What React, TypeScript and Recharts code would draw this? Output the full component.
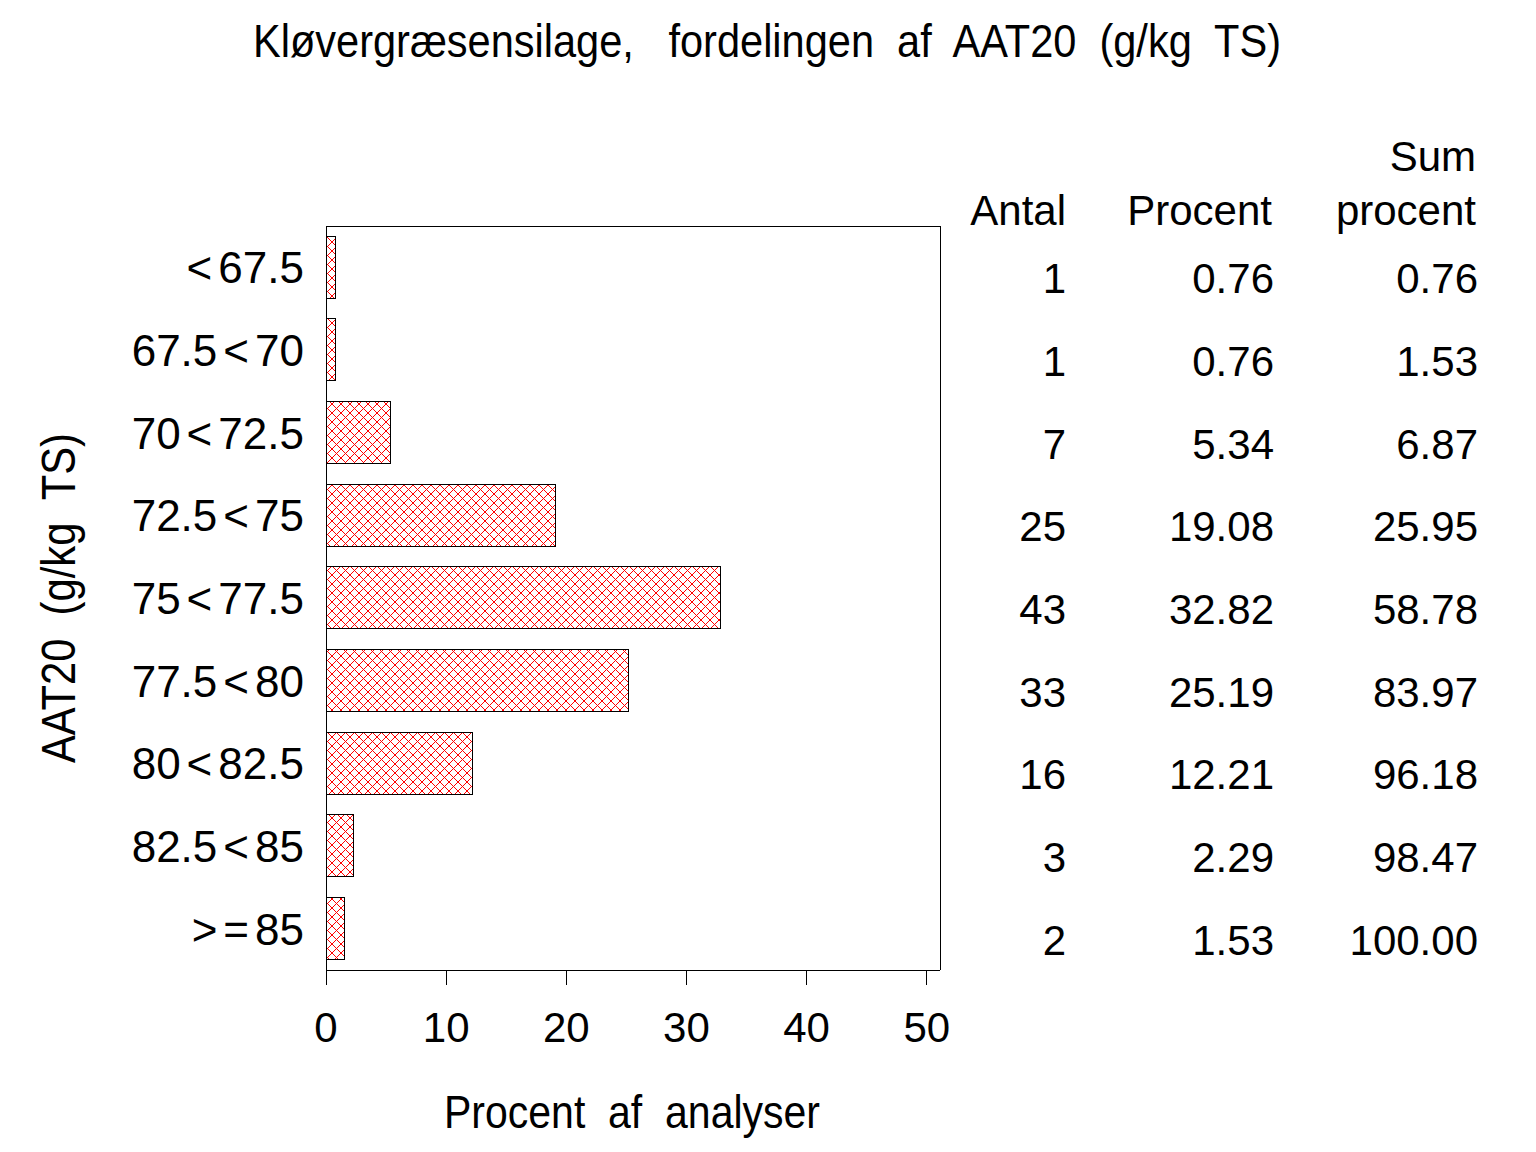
import { Bar, BarChart, Customized, XAxis, YAxis } from "recharts";

const categories = ["<67.5", "67.5<70", "70<72.5", "72.5<75", "75<77.5", "77.5<80", "80<82.5", "82.5<85", ">=85"];
const counts = [1, 1, 7, 25, 43, 33, 16, 3, 2];
const percents = [0.76, 0.76, 5.34, 19.08, 32.82, 25.19, 12.21, 2.29, 1.53];
const cumPercents = [0.76, 1.53, 6.87, 25.95, 58.78, 83.97, 96.18, 98.47, 100.0];
const xTicks = [0, 10, 20, 30, 40, 50];

const data = categories.map((label, i) => ({ label, pct: percents[i] }));

const FONT = "'Liberation Sans', Arial, Helvetica, sans-serif";

// splits "67.5<70" so the operator gets a bit of air around it
const CategoryTick = (props: any) => {
    const { x, y, payload } = props;
    const parts: { t: string; dx: number }[] = [];
    let prevOp = false;
    String(payload.value).split("").forEach((ch, i) => {
        const op = ch === "<" || ch === ">" || ch === "=";
        parts.push({ t: ch, dx: i > 0 && (op || prevOp) ? 6 : 0 });
        prevOp = op;
    });
    return (
        <text x={x + 2} y={y + 16} textAnchor="end" fontSize={44} fontFamily={FONT} fill="#000">
            {parts.map((p, i) => (
                <tspan key={i} dx={p.dx}>{p.t}</tspan>
            ))}
        </text>
    );
};

const TableTick = (props: any) => {
    const { x, y, index } = props;
    const cols = [String(counts[index]), percents[index].toFixed(2), cumPercents[index].toFixed(2)];
    const offs = [126, 334, 538];
    return (
        <g>
            {cols.map((c, i) => (
                <text key={i} x={x + offs[i]} y={y + 26} textAnchor="end" fontSize={42} fontFamily={FONT} fill="#000">
                    {c}
                </text>
            ))}
        </g>
    );
};

const XTick = (props: any) => {
    const { x, y, payload } = props;
    return (
        <text x={x} y={y + 57} textAnchor="middle" fontSize={42} fontFamily={FONT} fill="#000">
            {payload.value}
        </text>
    );
};

const Extras = () => (
    <g fontFamily={FONT} fill="#000">
        <defs>
            <pattern id="hatch" width="9" height="9" patternUnits="userSpaceOnUse">
                <path d="M0,0L9,9M9,0L0,9" stroke="#ff0000" strokeWidth={1} />
            </pattern>
        </defs>
        <text x={759} y={49} textAnchor="middle" fontSize={46} textLength={1028} lengthAdjust="spacingAndGlyphs" style={{ whiteSpace: "pre" }}>
            {"Kløvergræsensilage,   fordelingen  af  AAT20  (g/kg  TS)"}
        </text>
        <text x={624} y={1120} textAnchor="middle" fontSize={47} textLength={376} lengthAdjust="spacingAndGlyphs" style={{ whiteSpace: "pre" }}>
            {"Procent  af  analyser"}
        </text>
        <text
            transform="translate(67,590) rotate(-90)"
            textAnchor="middle"
            fontSize={48}
            textLength={330}
            lengthAdjust="spacingAndGlyphs"
            style={{ whiteSpace: "pre" }}
        >
            {"AAT20  (g/kg  TS)"}
        </text>
        <g fontSize={42} textAnchor="end">
            <text x={1058} y={217}>Antal</text>
            <text x={1264} y={217}>Procent</text>
            <text x={1468} y={163}>Sum</text>
            <text x={1468} y={217}>procent</text>
        </g>
    </g>
);

const App = () => {
    return (
        <div style={{ width: 1520, height: 1136 }}>
            <style>{`.recharts-cartesian-axis-line, .recharts-cartesian-axis-tick-line, .recharts-rectangle { shape-rendering: crispEdges; }`}</style>
            <BarChart
                width={1520}
                height={1136}
                data={data}
                layout="vertical"
                margin={{ top: 217, right: 0, bottom: 0, left: 0 }}
            >
                <Customized component={Extras} />
                <XAxis
                    type="number"
                    domain={[0, 51.1]}
                    ticks={xTicks}
                    height={174}
                    tickSize={15}
                    tickMargin={0}
                    tick={<XTick />}
                    stroke="#000"
                    allowDataOverflow
                />
                <XAxis
                    xAxisId="top"
                    type="number"
                    orientation="top"
                    domain={[0, 51.1]}
                    ticks={xTicks}
                    height={1}
                    tick={false}
                    tickLine={false}
                    axisLine={{ stroke: "#000" }}
                    stroke="#000"
                />
                <YAxis
                    yAxisId="left"
                    type="category"
                    dataKey="label"
                    width={318}
                    tickSize={0}
                    tickMargin={24}
                    tickLine={false}
                    tick={<CategoryTick />}
                    stroke="#000"
                    interval={0}
                />
                <YAxis
                    yAxisId="right"
                    orientation="right"
                    type="category"
                    dataKey="label"
                    width={588}
                    tickSize={0}
                    tickMargin={0}
                    tickLine={false}
                    tick={<TableTick />}
                    stroke="#000"
                    interval={0}
                />
                <Bar
                    dataKey="pct"
                    yAxisId="left"
                    fill="url(#hatch)"
                    stroke="#000"
                    strokeWidth={1}
                    barSize={62}
                    isAnimationActive={false}
                />
            </BarChart>
        </div>
    );
};

export default App;
